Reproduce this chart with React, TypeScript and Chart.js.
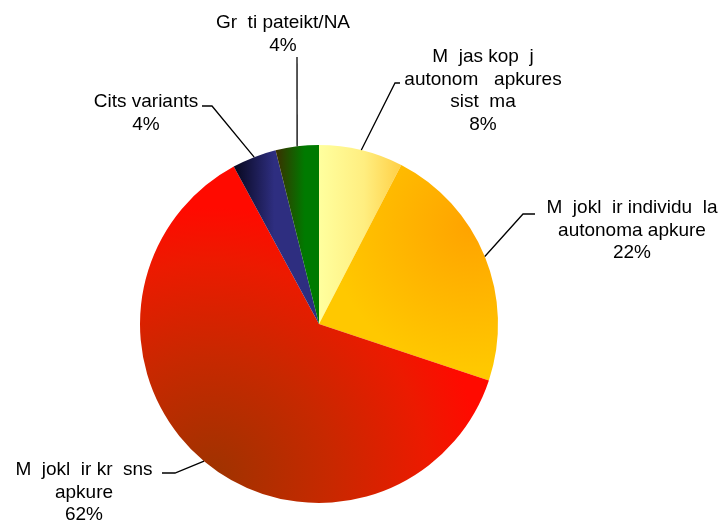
import React, { useEffect, useRef } from "react";
import { Chart, registerables } from "chart.js";

Chart.register(...registerables);

const categories: string[][] = [
  ["M  jas kop  j", "autonom   apkures", "sist  ma"],
  ["M  jokl  ir individu  la", "autonoma apkure"],
  ["M  jokl  ir kr  sns", "apkure"],
  ["Cits variants"],
  ["Gr  ti pateikt/NA"],
];
const percentLabels: string[] = ["8%", "22%", "62%", "4%", "4%"];
const values: number[] = [7.6, 22.5, 62.0, 4.0, 3.9];

// label layout: text centre offset from pie centre, leader elbow and end offsets
const labelLayout = [
  { tx: 164, ty: -267, elbow: [76, -241], end: [81, -241] },
  { tx: 313, ty: -116, elbow: [204, -110], end: [216, -110] },
  { tx: -235, ty: 146, elbow: [-144, 149], end: [-157, 149] },
  { tx: -173, ty: -222, elbow: [-107, -218], end: [-117, -218] },
  { tx: -36, ty: -301, elbow: [-22, -267], end: [-22, -267] },
];

const FONT = "19px 'Liberation Sans', Arial, sans-serif";
const LINE_H = 22.5;

function geom(chart: any) {
  const a = chart.chartArea;
  const cx = (a.left + a.right) / 2;
  const cy = (a.top + a.bottom) / 2;
  const r = Math.min(a.right - a.left, a.bottom - a.top) / 2;
  return { cx, cy, r };
}

function sliceFill(context: any) {
  const chart = context.chart;
  const i = context.dataIndex;
  const fallback = ["#FFE680", "#FFC000", "#E01800", "#1E1E60", "#006000"][i];
  if (!chart.chartArea) return fallback;
  const ctx = chart.ctx as CanvasRenderingContext2D;
  const { cx, cy, r } = geom(chart);
  let g: CanvasGradient;
  if (i === 0) {
    g = ctx.createLinearGradient(cx, 0, cx + 0.46 * r, 0);
    g.addColorStop(0, "#FFFF9E");
    g.addColorStop(0.55, "#FFEE80");
    g.addColorStop(1, "#FFCF45");
  } else if (i === 1) {
    g = ctx.createRadialGradient(cx + 0.85 * r, cy - 0.55 * r, 0, cx + 0.85 * r, cy - 0.55 * r, 0.8 * r);
    g.addColorStop(0, "#FFA300");
    g.addColorStop(1, "#FFC800");
  } else if (i === 2) {
    const gx = cx - 0.6 * r;
    const gy = cy + 0.85 * r;
    g = ctx.createRadialGradient(gx, gy, 0, gx, gy, 1.5 * r);
    g.addColorStop(0, "#9E3300");
    g.addColorStop(0.45, "#C82800");
    g.addColorStop(0.8, "#EC1A00");
    g.addColorStop(1, "#FF0A00");
  } else if (i === 3) {
    g = ctx.createLinearGradient(cx - 0.47 * r, 0, cx - 0.25 * r, 0);
    g.addColorStop(0, "#080820");
    g.addColorStop(1, "#2E2E80");
  } else {
    g = ctx.createLinearGradient(cx - 0.24 * r, 0, cx - 0.08 * r, 0);
    g.addColorStop(0, "#3A3000");
    g.addColorStop(1, "#007A00");
  }
  return g;
}

const labelPlugin = {
  id: "sliceLabels",
  afterDatasetsDraw(chart: any) {
    const ctx = chart.ctx as CanvasRenderingContext2D;
    const meta = chart.getDatasetMeta(0);
    const { cx, cy } = geom(chart);
    ctx.save();
    meta.data.forEach((arc: any, i: number) => {
      const lay = labelLayout[i];
      const mid = (arc.startAngle + arc.endAngle) / 2;
      const ex = arc.x + Math.cos(mid) * arc.outerRadius;
      const ey = arc.y + Math.sin(mid) * arc.outerRadius;
      ctx.strokeStyle = "#000";
      ctx.lineWidth = 1.3;
      ctx.beginPath();
      ctx.moveTo(ex, ey);
      ctx.lineTo(cx + lay.elbow[0], cy + lay.elbow[1]);
      ctx.lineTo(cx + lay.end[0], cy + lay.end[1]);
      ctx.stroke();
      const lines = [...categories[i], percentLabels[i]];
      ctx.fillStyle = "#000";
      ctx.font = FONT;
      ctx.textAlign = "center";
      ctx.textBaseline = "middle";
      lines.forEach((t, k) => {
        ctx.fillText(t, cx + lay.tx, cy + lay.ty + k * LINE_H);
      });
    });
    ctx.restore();
  },
};

export default function App() {
  const ref = useRef<HTMLCanvasElement | null>(null);
  useEffect(() => {
    if (!ref.current) return;
    const chart = new Chart(ref.current, {
      type: "pie",
      data: {
        labels: categories.map((c) => c.join(" ")),
        datasets: [
          {
            data: values,
            backgroundColor: sliceFill as any,
            borderWidth: 0,
          },
        ],
      },
      options: {
        animation: false,
        responsive: true,
        maintainAspectRatio: false,
        layout: { padding: { left: 140, right: 227, top: 145, bottom: 20 } },
        plugins: {
          legend: { display: false },
          tooltip: { enabled: false },
        },
      },
      plugins: [labelPlugin],
    });
    return () => chart.destroy();
  }, []);
  return (
    <div style={{ position: "fixed", left: 0, top: 0, width: 725, height: 523, background: "#fff" }}>
      <canvas ref={ref} />
    </div>
  );
}
